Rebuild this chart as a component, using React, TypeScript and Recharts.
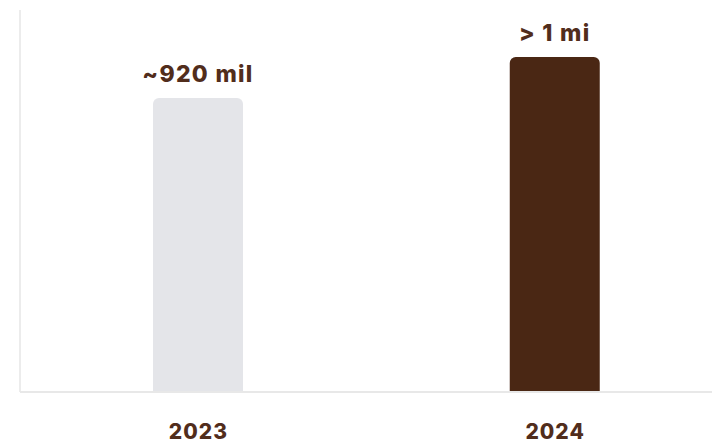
import React from "react";
import { BarChart, Bar, XAxis, YAxis, LabelList, Cell } from "recharts";

const years = ["2023", "2024"];
const values = [920, 1048];
const valueLabels = ["~920 mil", "> 1 mi"];
const colors = ["#e4e5e9", "#4a2714"];

const data = years.map((y, i) => ({ year: y, value: values[i], label: valueLabels[i] }));

const FONT = "Inter, 'Open Sans', sans-serif";
const TEXT = "#512d1c";

const Tick = (props: any) => {
  const { x, y, payload } = props;
  return (
    <text x={x} y={y + 31} textAnchor="middle" dominantBaseline="central" fontFamily={FONT} fontWeight={800} fontSize={21} letterSpacing={1} fill={TEXT}>
      {payload.value}
    </text>
  );
};

const Label = (props: any) => {
  const { x, y, width, value } = props;
  return (
    <text x={x + width / 2} y={y - 24} textAnchor="middle" dominantBaseline="central" fontFamily={FONT} fontWeight={800} fontSize={23} letterSpacing={1.3} fill={TEXT}>
      {value}
    </text>
  );
};

export default function App() {
  return (
    <div style={{ position: "absolute", left: 0, top: 0, width: 712, height: 440, overflow: "hidden", background: "#fff" }}>
      <BarChart width={760} height={440} data={data} margin={{ top: 10, left: 19, right: 26.5, bottom: 0 }} barSize={90}>
        <YAxis width={1} domain={[0, 1195]} tick={false} tickLine={false} axisLine={{ stroke: "#ececec", strokeWidth: 2 }} />
        <XAxis dataKey="year" height={48} tickLine={false} axisLine={{ stroke: "#e8e8e8", strokeWidth: 2 }} tick={<Tick />} interval={0} />
        <Bar dataKey="value" radius={[6, 6, 0, 0]} isAnimationActive={false}>
          {data.map((d, i) => (
            <Cell key={d.year} fill={colors[i]} />
          ))}
          <LabelList dataKey="label" content={<Label />} />
        </Bar>
      </BarChart>
    </div>
  );
}
